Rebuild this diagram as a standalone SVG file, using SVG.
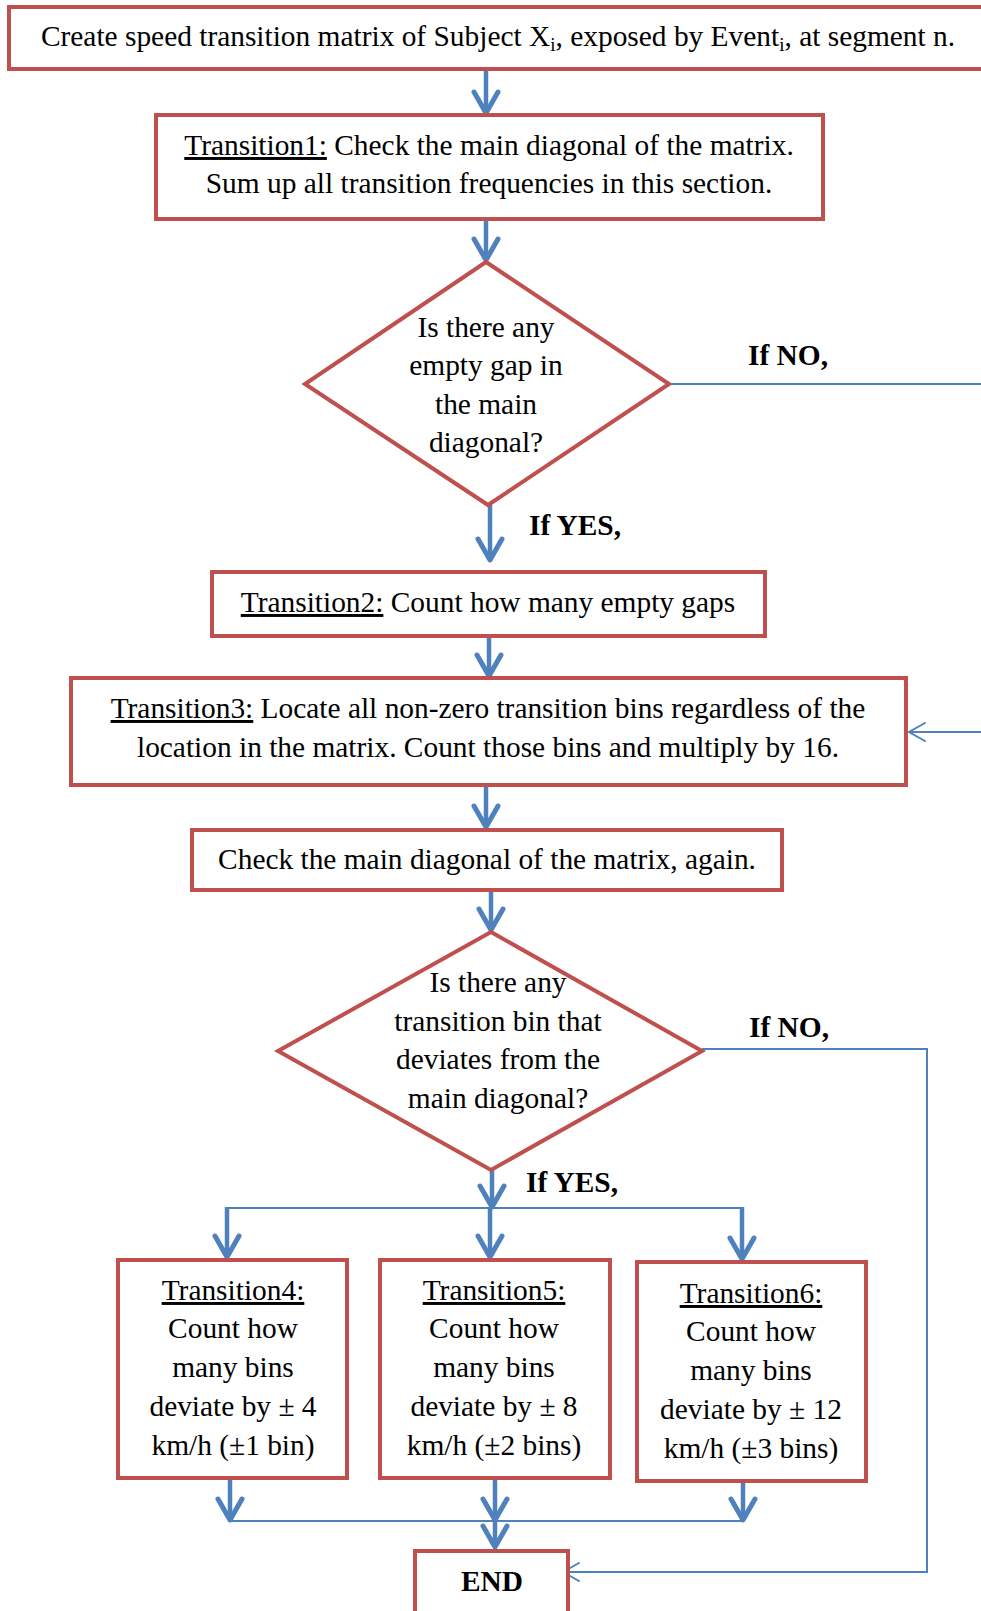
<svg xmlns="http://www.w3.org/2000/svg" width="981" height="1611" viewBox="0 0 981 1611">
<style>
.box{fill:#ffffff;stroke:#C0504D;stroke-width:4}
.t{font-family:"Liberation Serif","Times New Roman",serif;font-size:29.4px;fill:#000000;text-anchor:middle}
.b{font-weight:bold}
.u{text-decoration:underline}
.thick{fill:none;stroke:#4F81BD;stroke-width:4.5}
.thin{fill:none;stroke:#4F81BD;stroke-width:2}
</style>
<defs>
<marker id="ah" markerUnits="userSpaceOnUse" viewBox="-26 -16 30 32" markerWidth="30" markerHeight="32" refX="0" refY="0" orient="auto" overflow="visible">
<path d="M-21,-12 L0,0 L-21,12" fill="none" stroke="#4F81BD" stroke-width="5" stroke-linecap="round" stroke-linejoin="round"/>
</marker>
<marker id="oh" markerUnits="userSpaceOnUse" viewBox="-20 -12 24 24" markerWidth="24" markerHeight="24" refX="0" refY="0" orient="auto" overflow="visible">
<path d="M-16,-9 L0,0 L-16,9" fill="none" stroke="#4F81BD" stroke-width="2" stroke-linecap="round" stroke-linejoin="miter"/>
</marker>
</defs>
<rect width="981" height="1611" fill="#ffffff"/>

<g id="connectors">
<path class="thick" d="M486,70 L486,113" marker-end="url(#ah)"/>
<path class="thick" d="M486,219 L486,260" marker-end="url(#ah)"/>
<path class="thick" d="M490,505 L490,560" marker-end="url(#ah)"/>
<path class="thick" d="M489,636 L489,676" marker-end="url(#ah)"/>
<path class="thick" d="M486,785 L486,827" marker-end="url(#ah)"/>
<path class="thick" d="M491,890 L491,930" marker-end="url(#ah)"/>
<path class="thin" d="M669,384 L1000,384 L1000,732 L909,732" marker-end="url(#oh)"/>
<path class="thick" d="M492,1170 L492,1207" marker-end="url(#ah)"/>
<path class="thin" d="M227,1208 L742,1208"/>
<path class="thick" d="M227,1207 L227,1257" marker-end="url(#ah)"/>
<path class="thick" d="M490,1207 L490,1257" marker-end="url(#ah)"/>
<path class="thick" d="M742,1207 L742,1259" marker-end="url(#ah)"/>
<path class="thick" d="M230,1478 L230,1520" marker-end="url(#ah)"/>
<path class="thick" d="M743,1481 L743,1520" marker-end="url(#ah)"/>
<path class="thin" d="M230,1521 L743,1521"/>
<path class="thick" d="M495,1478 L495,1520" marker-end="url(#ah)"/>
<path class="thick" d="M495,1520 L495,1547" marker-end="url(#ah)"/>
<path class="thin" d="M702,1049 L927,1049 L927,1572 L563,1572" marker-end="url(#oh)"/>
</g>

<g id="start">
<rect class="box" x="9" y="7" width="980" height="62"/>
<text class="t" x="498" y="46">Create speed transition matrix of Subject X<tspan font-size="19" dy="5">i</tspan><tspan dy="-5">, exposed by Event</tspan><tspan font-size="19" dy="5">i</tspan><tspan dy="-5">, at segment n.</tspan></text>
</g>

<g id="transition1">
<rect class="box" x="156" y="115" width="667" height="104"/>
<text class="t" x="489" y="155"><tspan class="u">Transition1:</tspan> Check the main diagonal of the matrix.</text>
<text class="t" x="489" y="193">Sum up all transition frequencies in this section.</text>
</g>

<g id="decision1">
<polygon class="box" points="486,262 669,384 488,505 305,384"/>
<text class="t" x="486" y="337">Is there any</text>
<text class="t" x="486" y="375">empty gap in</text>
<text class="t" x="486" y="414">the main</text>
<text class="t" x="486" y="452">diagonal?</text>
</g>
<g id="label-no1"><text class="t b" x="788" y="365">If NO,</text></g>
<g id="label-yes1"><text class="t b" x="575" y="535">If YES,</text></g>

<g id="transition2">
<rect class="box" x="212" y="572" width="553" height="64"/>
<text class="t" x="488" y="612"><tspan class="u">Transition2:</tspan> Count how many empty gaps</text>
</g>

<g id="transition3">
<rect class="box" x="71" y="678" width="835" height="107"/>
<text class="t" x="488" y="718"><tspan class="u">Transition3:</tspan> Locate all non-zero transition bins regardless of the</text>
<text class="t" x="488" y="757">location in the matrix. Count those bins and multiply by 16.</text>
</g>

<g id="check-again">
<rect class="box" x="192" y="830" width="590" height="60"/>
<text class="t" x="487" y="869">Check the main diagonal of the matrix, again.</text>
</g>

<g id="decision2">
<polygon class="box" points="491,932 702,1051 491,1170 278,1051"/>
<text class="t" x="498" y="992">Is there any</text>
<text class="t" x="498" y="1031">transition bin that</text>
<text class="t" x="498" y="1069">deviates from the</text>
<text class="t" x="498" y="1108">main diagonal?</text>
</g>
<g id="label-no2"><text class="t b" x="789" y="1037">If NO,</text></g>
<g id="label-yes2"><text class="t b" x="572" y="1192">If YES,</text></g>

<g id="transition4">
<rect class="box" x="118" y="1260" width="229" height="218"/>
<text class="t" x="233" y="1300"><tspan class="u">Transition4:</tspan></text>
<text class="t" x="233" y="1338">Count how</text>
<text class="t" x="233" y="1377">many bins</text>
<text class="t" x="233" y="1416">deviate by ± 4</text>
<text class="t" x="233" y="1455">km/h (±1 bin)</text>
</g>

<g id="transition5">
<rect class="box" x="380" y="1260" width="230" height="218"/>
<text class="t" x="494" y="1300"><tspan class="u">Transition5:</tspan></text>
<text class="t" x="494" y="1338">Count how</text>
<text class="t" x="494" y="1377">many bins</text>
<text class="t" x="494" y="1416">deviate by ± 8</text>
<text class="t" x="494" y="1455">km/h (±2 bins)</text>
</g>

<g id="transition6">
<rect class="box" x="637" y="1262" width="229" height="219"/>
<text class="t" x="751" y="1303"><tspan class="u">Transition6:</tspan></text>
<text class="t" x="751" y="1341">Count how</text>
<text class="t" x="751" y="1380">many bins</text>
<text class="t" x="751" y="1419">deviate by ± 12</text>
<text class="t" x="751" y="1458">km/h (±3 bins)</text>
</g>

<g id="end">
<rect class="box" x="415" y="1551" width="153" height="70"/>
<text class="t b" x="492" y="1591">END</text>
</g>
</svg>
